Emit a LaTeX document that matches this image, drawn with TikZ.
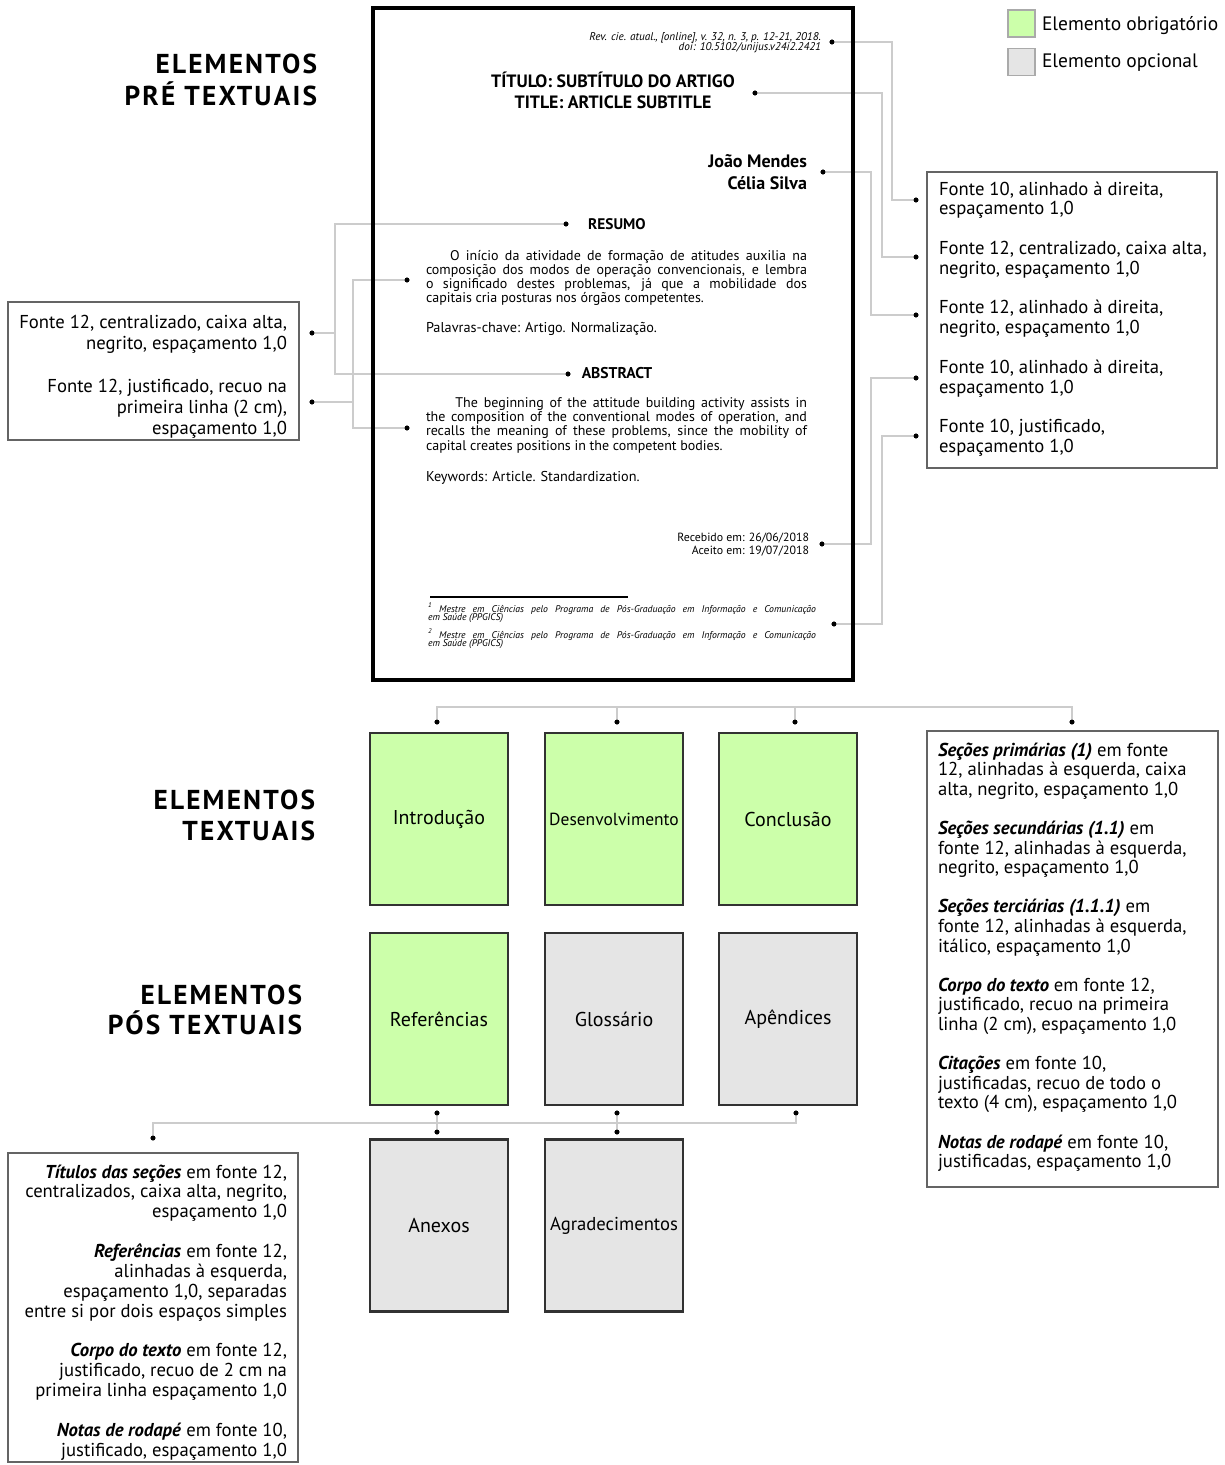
\documentclass[tikz,border=0pt]{standalone}
\usepackage{fontspec}
\setmainfont{PT Sans}
\newfontfamily\headfam{PT Sans}[LetterSpace=8]
\definecolor{conncol}{RGB}{204,204,204}
\definecolor{okgreen}{RGB}{204,255,170}
\definecolor{optgray}{RGB}{229,229,229}
\definecolor{framecol}{RGB}{50,50,50}
\definecolor{infocol}{RGB}{100,100,100}
\definecolor{legcol}{RGB}{170,170,170}
\newcommand\hdf{\headfam\bfseries\fontsize{20.5}{24}\selectfont}
% text block: #1 width, #2 alignment and font, #3 text
\newcommand\tblk[3]{\parbox[t]{#1}{\lineskiplimit=-40pt #2#3}}
\newcommand\jline[1]{\makebox[\linewidth][s]{#1}}
\tikzset{
  conn/.style={draw=conncol, line width=1.1pt},
  dot/.style={circle, fill=black, inner sep=0pt, minimum size=3.6pt},
  elem/.style={draw=framecol, line width=1.9pt, minimum width=103.5pt, minimum height=129pt, inner sep=0pt, font=\fontsize{15}{17}\selectfont},
  mand/.style={elem, fill=okgreen},
  opt/.style={elem, fill=optgray},
  infobox/.style={draw=infocol, line width=1.1pt, inner sep=0pt},
  legbox/.style={draw=legcol, line width=1.2pt, minimum size=20.5pt, inner sep=0pt},
  txt/.style={inner sep=0pt, outer sep=0pt},
}
\begin{document}
\begin{tikzpicture}[x=0.75pt, y=-0.75pt]
\fill[white] (0,0) rectangle (1225,1465);
\useasboundingbox (0,0) rectangle (1225,1465);

% ---------- dots ----------
\node[dot] (dHead) at (832,42) {};
\node[dot] (dTitle) at (755,93) {};
\node[dot] (dAuth) at (823,172) {};
\node[dot] (dRes) at (566,224) {};
\node[dot] (dPt) at (407,280) {};
\node[dot] (dAbs) at (568,374) {};
\node[dot] (dEn) at (407,428) {};
\node[dot] (dRec) at (822,544) {};
\node[dot] (dFoot) at (834,624) {};
\node[dot] (dL1) at (312,333) {};
\node[dot] (dL2) at (312,402) {};
\node[dot] (dR1) at (916,200) {};
\node[dot] (dR2) at (916,257) {};
\node[dot] (dR3) at (916,315) {};
\node[dot] (dR4) at (916,378) {};
\node[dot] (dR5) at (916,436) {};
\node[dot] (tI) at (437,722) {};
\node[dot] (tD) at (617,722) {};
\node[dot] (tC) at (795,722) {};
\node[dot] (tR) at (1072,722) {};
\node[dot] (bR) at (437,1113) {};
\node[dot] (bG) at (617,1113) {};
\node[dot] (bP) at (796,1113) {};
\node[dot] (bA) at (437,1132) {};
\node[dot] (bAg) at (617,1132) {};
\node[dot] (bL) at (153,1138) {};

\coordinate (jA) at (335,333);
\coordinate (jB) at (353,402);

% ---------- connectors ----------
\draw[conn] (dRes) -| (jA) |- (dAbs);
\draw[conn] (dL1) -- (jA);
\draw[conn] (dPt) -| (jB) |- (dEn);
\draw[conn] (dL2) -- (jB);
\draw[conn] (dHead) -| (892,200) -- (dR1);
\draw[conn] (dTitle) -| (882,257) -- (dR2);
\draw[conn] (dAuth) -| (871,315) -- (dR3);
\draw[conn] (dRec) -| (871,378) -- (dR4);
\draw[conn] (dFoot) -| (882,436) -- (dR5);
\draw[conn] (tI) -- (437,707) -| (tR);
\draw[conn] (tD) -- (617,707);
\draw[conn] (tC) -- (795,707);
\draw[conn] (bR) -- (bA);
\draw[conn] (bG) -- (bAg);
\draw[conn] (bP) -- (796,1123) -| (bL);

% ---------- page ----------
\node[draw=black, line width=2.4pt, minimum width=360pt, minimum height=504pt, inner sep=0pt] (page) at (613,344) {};

\node[txt, anchor=base east] (head) at (821,40) {\tblk{220pt}{\raggedleft\fontsize{8.4}{7.5}\selectfont\itshape}{Rev. cie. atual., [online], v. 32, n. 3, p. 12-21, 2018.\\ doi: 10.5102/unijus.v24i2.2421}};
\node[txt, anchor=base] (title) at (613,87) {\tblk{250pt}{\centering\fontsize{13.4}{15.75}\selectfont\bfseries}{TÍTULO: SUBTÍTULO DO ARTIGO\\ TITLE: ARTICLE SUBTITLE}};
\node[txt, anchor=base east] (auth) at (807,167) {\tblk{120pt}{\raggedleft\fontsize{13.5}{16.5}\selectfont\bfseries}{João Mendes\\ Célia Silva}};
\node[txt, anchor=base] (resumo) at (617,229) {\fontsize{11.5}{12}\selectfont\bfseries RESUMO};
\node[txt, anchor=base west] (ptpar) at (426,260) {\tblk{285.75pt}{\fontsize{10.5}{10.5}\selectfont}{\jline{\hspace*{18pt}O início da atividade de formação de atitudes auxilia na}\\ \jline{composição dos modos de operação convencionais, e lembra}\\ \jline{o significado destes problemas, já que a mobilidade dos}\\ capitais cria  posturas nos órgãos competentes.}};
\node[txt, anchor=base west] (kwpt) at (426,332) {\fontsize{10.7}{10.5}\selectfont Palavras-chave: Artigo. Normalização.};
\node[txt, anchor=base] (abstr) at (617,378) {\fontsize{11.7}{12}\selectfont\bfseries ABSTRACT};
\node[txt, anchor=base west] (enpar) at (426,407) {\tblk{285.75pt}{\fontsize{10.5}{10.8}\selectfont}{\jline{\hspace*{22pt}The beginning of the attitude building activity assists in}\\ \jline{the composition of the conventional modes of operation, and}\\ \jline{recalls the meaning of these problems, since the mobility of}\\ capital creates positions in the competent bodies.}};
\node[txt, anchor=base west] (kwen) at (426,481) {\fontsize{10.7}{10.5}\selectfont Keywords: Article. Standardization.};
\node[txt, anchor=base east] (rec) at (809,541) {\tblk{150pt}{\raggedleft\fontsize{8.9}{9.75}\selectfont}{Recebido em: 26/06/2018\\ Aceito em: 19/07/2018}};
\draw[line width=1.5pt] (430,597) -- (628,597);
\node[txt, anchor=base west] (fn1) at (428,612) {\tblk{291pt}{\fontsize{7.3}{6}\selectfont\itshape}{\jline{\textsuperscript{1} Mestre em Ciências pelo Programa de Pós-Graduação em Informação e Comunicação}\\ em Saúde (PPGICS)}};
\node[txt, anchor=base west] (fn2) at (428,638) {\tblk{291pt}{\fontsize{7.3}{6}\selectfont\itshape}{\jline{\textsuperscript{2} Mestre em Ciências pelo Programa de Pós-Graduação em Informação e Comunicação}\\ em Saúde (PPGICS)}};

% ---------- headings ----------
\node[txt, anchor=base east] (h1a) at (317,73) {\hdf ELEMENTOS};
\node[txt, anchor=base east] (h1b) at (317,105) {\hdf PRÉ TEXTUAIS};
\node[txt, anchor=base east] (h2a) at (315,809) {\hdf ELEMENTOS};
\node[txt, anchor=base east] (h2b) at (315,840) {\hdf TEXTUAIS};
\node[txt, anchor=base east] (h3a) at (302,1004) {\hdf ELEMENTOS};
\node[txt, anchor=base east] (h3b) at (302,1034) {\hdf PÓS TEXTUAIS};

% ---------- legend ----------
\node[legbox, fill=okgreen] (legG) at (1021.5,23.5) {};
\node[legbox, fill=optgray] (legO) at (1021.5,62) {};
\node[txt, anchor=base west] (legGt) at (1042,30) {\fontsize{14.6}{16}\selectfont Elemento obrigatório};
\node[txt, anchor=base west] (legOt) at (1042,67) {\fontsize{14.6}{16}\selectfont Elemento opcional};

% ---------- info boxes ----------
\node[infobox, minimum width=217.5pt, minimum height=222pt] (rbox1) at (1072,320) {};
\node[txt, anchor=base west] (rt1) at (939,195) {\tblk{250pt}{\raggedright\fontsize{14}{14.85}\selectfont}{Fonte 10, alinhado à direita,\\ espaçamento 1,0\\[14.85pt] Fonte 12, centralizado, caixa alta,\\ negrito, espaçamento 1,0\\[14.85pt] Fonte 12, alinhado à direita,\\ negrito, espaçamento 1,0\\[14.85pt] Fonte 10, alinhado à direita,\\ espaçamento 1,0\\[14.85pt] Fonte 10, justificado,\\ espaçamento 1,0}};

\node[infobox, minimum width=218.25pt, minimum height=103.5pt] (lbox1) at (153.5,371) {};
\node[txt, anchor=base east] (lt1) at (287,328) {\tblk{250pt}{\raggedleft\fontsize{14}{15.75}\selectfont}{Fonte 12, centralizado, caixa alta,\\ negrito, espaçamento 1,0}};
\node[txt, anchor=base east] (lt2) at (287,392) {\tblk{250pt}{\raggedleft\fontsize{14}{15.75}\selectfont}{Fonte 12, justificado, recuo na\\ primeira linha (2 cm),\\ espaçamento 1,0}};

\node[infobox, minimum width=218.25pt, minimum height=342pt] (rbox2) at (1072.5,959) {};
\node[txt, anchor=base west] (rt2) at (938,756) {\tblk{250pt}{\raggedright\fontsize{14}{14.7}\selectfont}{\textbf{\textit{Seções primárias (1)}} em fonte\\ 12, alinhadas à esquerda, caixa\\ alta, negrito, espaçamento 1,0\\[14.7pt] \textbf{\textit{Seções secundárias (1.1)}} em\\ fonte 12, alinhadas à esquerda,\\ negrito, espaçamento 1,0\\[14.7pt] \textbf{\textit{Seções terciárias (1.1.1)}} em\\ fonte 12, alinhadas à esquerda,\\ itálico, espaçamento 1,0\\[14.7pt] \textbf{\textit{Corpo do texto}} em fonte 12,\\ justificado, recuo na primeira\\ linha (2 cm), espaçamento 1,0\\[14.7pt] \textbf{\textit{Citações}} em fonte 10,\\ justificadas, recuo de todo o\\ texto (4 cm), espaçamento 1,0\\[14.7pt] \textbf{\textit{Notas de rodapé}} em fonte 10,\\ justificadas, espaçamento 1,0}};

\node[infobox, minimum width=217.5pt, minimum height=231.75pt] (lbox2) at (153,1307.5) {};
\node[txt, anchor=base east] (lt3) at (287,1178) {\tblk{250pt}{\raggedleft\fontsize{14}{14.9}\selectfont}{\textbf{\textit{Títulos das seções}} em fonte 12,\\ centralizados, caixa alta, negrito,\\ espaçamento 1,0\\[14.9pt] \textbf{\textit{Referências}} em fonte 12,\\ alinhadas à esquerda,\\ espaçamento 1,0, separadas\\ entre si por dois espaços simples\\[14.9pt] \textbf{\textit{Corpo do texto}} em fonte 12,\\ justificado, recuo de 2 cm na\\ primeira linha espaçamento 1,0\\[14.9pt] \textbf{\textit{Notas de rodapé}} em fonte 10,\\ justificado, espaçamento 1,0}};

% ---------- element boxes ----------
\node[mand] (intro) at (439,819) {Introdução};
\node[mand, font=\fontsize{13.1}{15}\selectfont] (desenv) at (614,819) {Desenvolvimento};
\node[mand] (concl) at (788,819) {Conclusão};
\node[mand] (refs) at (439,1019) {Referências};
\node[opt] (gloss) at (614,1019) {Glossário};
\node[opt] (apend) at (788,1019) {Apêndices};
\node[opt] (anexos) at (439,1225.5) {Anexos};
\node[opt, font=\fontsize{14}{16}\selectfont] (agrad) at (614,1225.5) {Agradecimentos};

% dots on top
\foreach \d in {dHead,dTitle,dAuth,dRes,dPt,dAbs,dEn,dRec,dFoot,dL1,dL2,dR1,dR2,dR3,dR4,dR5,tI,tD,tC,tR,bR,bG,bP,bA,bAg,bL}
  \fill (\d.center) circle (1.8pt);
\end{tikzpicture}
\end{document}
